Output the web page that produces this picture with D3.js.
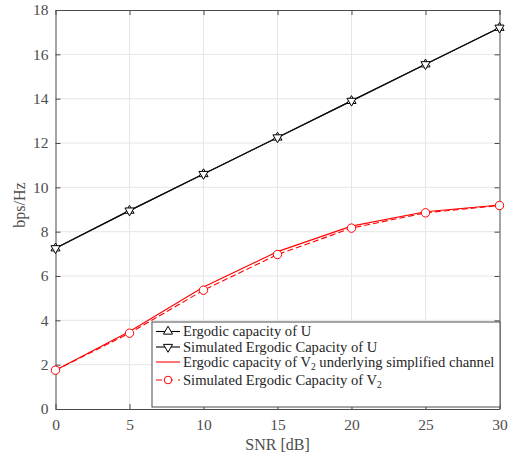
<!DOCTYPE html>
<html><head><meta charset="utf-8">
<script src="https://cdn.jsdelivr.net/npm/d3@7"></script>
<style>body{margin:0;background:#fff}svg{display:block}</style>
</head><body>
<script>
const snr = [0, 5, 10, 15, 20, 25, 30];
const capU = [7.25, 8.95, 10.6, 12.25, 13.9, 15.55, 17.2];
const simU = [7.25, 8.95, 10.6, 12.25, 13.9, 15.55, 17.2];
const capV2 = [1.75, 3.5, 5.5, 7.1, 8.25, 8.9, 9.2];
const simV2 = [1.75, 3.42, 5.36, 6.97, 8.16, 8.85, 9.18];
const xTicks = [0, 5, 10, 15, 20, 25, 30];
const yTicks = [0, 2, 4, 6, 8, 10, 12, 14, 16, 18];
const legendLabels = ["Ergodic capacity of U", "Simulated Ergodic Capacity of U",
  "Ergodic capacity of V|2 underlying simplified channel", "Simulated Ergodic Capacity of V|2"];

const W = 517, H = 457;
const svg = d3.select("body").append("svg").attr("width", W).attr("height", H);
const L = 55.5, R = 499.5, T = 10, B = 409;
const x = d3.scaleLinear().domain([0, 30]).range([L, R]);
const y = d3.scaleLinear().domain([0, 18]).range([B, T]);
const font = "'Liberation Serif', 'Times New Roman', serif";
const gridC = "#e6e6e6", axisC = "#4a4a4a", txtC = "#4d4d4d";

// grid
svg.append("g").selectAll("line.gx").data(xTicks.slice(1, -1)).join("line")
  .attr("x1", d => x(d)).attr("x2", d => x(d)).attr("y1", T).attr("y2", B)
  .attr("stroke", gridC).attr("stroke-width", 1);
svg.append("g").selectAll("line.gy").data(yTicks.slice(1, -1)).join("line")
  .attr("y1", d => y(d)).attr("y2", d => y(d)).attr("x1", L).attr("x2", R)
  .attr("stroke", gridC).attr("stroke-width", 1);

// axes
const tk = 5;
const gb = svg.append("g").attr("transform", `translate(0,${B})`)
  .call(d3.axisBottom(x).tickValues(xTicks).tickSizeInner(-tk).tickSizeOuter(0).tickPadding(10));
const gt = svg.append("g").attr("transform", `translate(0,${T})`)
  .call(d3.axisTop(x).tickValues(xTicks).tickSizeInner(-tk).tickSizeOuter(0).tickFormat(""));
const gl = svg.append("g").attr("transform", `translate(${L},0)`)
  .call(d3.axisLeft(y).tickValues(yTicks).tickSizeInner(-tk).tickSizeOuter(0).tickPadding(7));
const gr = svg.append("g").attr("transform", `translate(${R},0)`)
  .call(d3.axisRight(y).tickValues(yTicks).tickSizeInner(-tk).tickSizeOuter(0).tickFormat(""));
[gb, gt, gl, gr].forEach(g => {
  g.selectAll("path").attr("stroke", axisC).attr("stroke-width", 1);
  g.selectAll("line").attr("stroke", axisC).attr("stroke-width", 1);
  g.selectAll("text").attr("fill", txtC).attr("font-family", font).attr("font-size", 15.5);
});

// axis labels
svg.append("text").attr("x", (L + R) / 2).attr("y", 450).attr("text-anchor", "middle")
  .attr("font-family", font).attr("font-size", 16).attr("fill", txtC).text("SNR [dB]");
svg.append("text").attr("transform", `translate(25,205) rotate(-90)`)
  .attr("text-anchor", "middle").attr("font-family", font).attr("font-size", 16)
  .attr("fill", txtC).text("bps/Hz");

const line = d3.line().x((d, i) => x(snr[i])).y(d => y(d));
const triSym = d3.symbol().type(d3.symbolTriangle).size(36);

function tri(g, cx, cy, down) {
  return g.append("path").attr("d", triSym())
    .attr("transform", `translate(${cx},${cy}) rotate(${down ? 180 : 0})`)
    .attr("fill", "#fff").attr("stroke", "#000").attr("stroke-width", 1);
}

// U lines
svg.append("path").attr("d", line(capU)).attr("fill", "none").attr("stroke", "#111").attr("stroke-width", 1.2);
svg.append("path").attr("d", line(simU)).attr("fill", "none").attr("stroke", "#111").attr("stroke-width", 1.2);
const mk = svg.append("g");
capU.forEach((v, i) => tri(mk, x(snr[i]), y(v), false));
simU.forEach((v, i) => tri(mk, x(snr[i]), y(v), true));

// V2 lines
svg.append("path").attr("d", line(capV2)).attr("fill", "none").attr("stroke", "#ff0000").attr("stroke-width", 1.1);
svg.append("path").attr("d", line(simV2)).attr("fill", "none").attr("stroke", "#ff0000")
  .attr("stroke-width", 1.1).attr("stroke-dasharray", "6,3");
svg.append("g").selectAll("circle").data(simV2).join("circle")
  .attr("cx", (d, i) => x(snr[i])).attr("cy", d => y(d)).attr("r", 4.2)
  .attr("fill", "#fff").attr("stroke", "#ff0000").attr("stroke-width", 1);

// legend
const lg = svg.append("g");
const lx0 = 152, ly0 = 322, lx1 = 500, ly1 = 407;
lg.append("rect").attr("x", lx0).attr("y", ly0).attr("width", lx1 - lx0).attr("height", ly1 - ly0)
  .attr("fill", "#fff").attr("stroke", "#4a4a4a").attr("stroke-width", 1);
const rowY = [331.5, 347, 362, 380];
const sx0 = 156, sx1 = 180, sxm = 168;
legendLabels.forEach((lab, i) => {
  const yy = rowY[i];
  if (i < 2) {
    lg.append("line").attr("x1", sx0).attr("x2", sx1).attr("y1", yy).attr("y2", yy).attr("stroke", "#000").attr("stroke-width", 1.1);
    tri(lg, sxm, yy, i === 1);
  } else if (i === 2) {
    lg.append("line").attr("x1", sx0).attr("x2", sx1).attr("y1", yy).attr("y2", yy).attr("stroke", "#ff0000").attr("stroke-width", 1.1);
  } else {
    lg.append("line").attr("x1", sx0).attr("x2", sx1).attr("y1", yy).attr("y2", yy).attr("stroke", "#ff0000")
      .attr("stroke-width", 1.1).attr("stroke-dasharray", "6,5");
    lg.append("circle").attr("cx", sxm).attr("cy", yy).attr("r", 3.8).attr("fill", "#fff").attr("stroke", "#ff0000");
  }
  const t = lg.append("text").attr("x", 183).attr("y", yy + 4.5).attr("font-family", font)
    .attr("font-size", 14.6).attr("fill", "#262626");
  const parts = lab.split("|");
  if (parts.length === 1) t.text(lab);
  else {
    t.append("tspan").text(parts[0]);
    t.append("tspan").attr("font-size", 9.5).attr("dy", 3.5).text(parts[1][0]);
    t.append("tspan").attr("dy", -3.5).text(parts[1].slice(1));
  }
});
</script>
</body></html>
